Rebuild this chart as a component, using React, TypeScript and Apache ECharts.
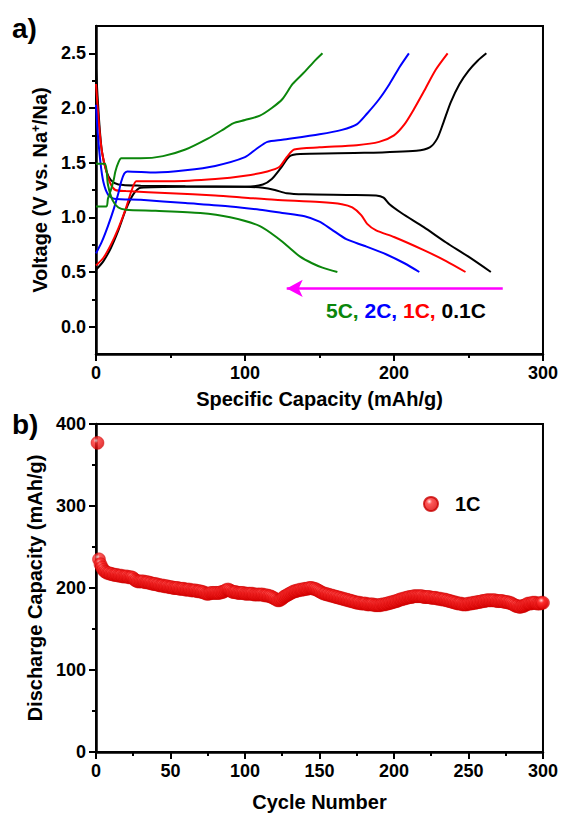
import React, { useEffect, useRef } from "react";
import * as echarts from "echarts";

const FONT = '"Liberation Sans", Arial, Helvetica, sans-serif';

// ---- (a) charge / discharge profiles: [capacity mAh/g, voltage V] ----
const black01CDischarge = [
  [0, 2.36], [2, 1.9], [4, 1.6], [7, 1.42], [10, 1.34], [15, 1.3], [30, 1.29], [60, 1.285], [100, 1.28],
  [112, 1.27], [120, 1.25], [128, 1.22], [140, 1.21], [170, 1.205], [188, 1.2], [193, 1.18], [197, 1.12],
  [205, 1.04], [220, 0.91], [235, 0.77], [250, 0.64], [265, 0.5],
];
const black01CCharge = [
  [0, 0.52], [5, 0.6], [10, 0.72], [15, 0.88], [20, 1.07], [25, 1.21], [30, 1.27], [60, 1.28], [100, 1.28],
  [112, 1.3], [118, 1.35], [124, 1.45], [130, 1.56], [137, 1.58], [180, 1.59], [215, 1.61], [224, 1.64],
  [229, 1.72], [233, 1.86], [238, 2.05], [244, 2.22], [250, 2.34], [256, 2.43], [262, 2.5],
];
const red1CDischarge = [
  [0, 2.22], [2, 1.85], [4, 1.6], [7, 1.42], [10, 1.3], [13, 1.25], [20, 1.24], [50, 1.22], [80, 1.2],
  [100, 1.18], [120, 1.16], [150, 1.14], [165, 1.12], [172, 1.09], [178, 1.02], [182, 0.94], [188, 0.88],
  [200, 0.82], [220, 0.7], [235, 0.6], [248, 0.5],
];
const red1CCharge = [
  [0, 0.56], [5, 0.63], [10, 0.75], [15, 0.9], [20, 1.08], [24, 1.25], [27, 1.33], [30, 1.33], [50, 1.33],
  [80, 1.35], [100, 1.38], [115, 1.42], [123, 1.46], [128, 1.55], [133, 1.62], [150, 1.64], [175, 1.66],
  [190, 1.69], [200, 1.75], [207, 1.85], [213, 1.98], [220, 2.15], [228, 2.35], [236, 2.5],
];
const blue2CDischarge = [
  [0, 2.03], [1, 1.8], [3, 1.5], [5, 1.32], [8, 1.21], [12, 1.17], [30, 1.16], [60, 1.13], [90, 1.1],
  [110, 1.07], [125, 1.04], [140, 1.01], [150, 0.96], [158, 0.89], [168, 0.8], [180, 0.74], [195, 0.66],
  [207, 0.58], [217, 0.5],
];
const blue2CCharge = [
  [0, 0.67], [4, 0.78], [8, 0.92], [12, 1.08], [15, 1.22], [17, 1.33], [19, 1.4], [21, 1.42], [40, 1.41],
  [60, 1.43], [80, 1.47], [100, 1.55], [108, 1.63], [115, 1.69], [125, 1.71], [150, 1.76], [165, 1.8],
  [175, 1.85], [182, 1.95], [190, 2.08], [197, 2.22], [204, 2.38], [210, 2.5],
];
const green5CDischarge = [
  [0, 1.49], [6, 1.49], [8, 1.3], [11, 1.16], [15, 1.09], [20, 1.07], [40, 1.06], [70, 1.04], [90, 1.0],
  [110, 0.92], [123, 0.8], [130, 0.72], [137, 0.64], [145, 0.58], [152, 0.54], [162, 0.5],
];
const green5CCharge = [
  [0, 1.1], [7, 1.1], [8, 1.17], [10, 1.25], [12, 1.35], [13, 1.42], [15, 1.5], [17, 1.54], [30, 1.54],
  [45, 1.56], [60, 1.62], [75, 1.72], [85, 1.8], [92, 1.86], [100, 1.89], [110, 1.93], [118, 2.0],
  [125, 2.08], [132, 2.22], [140, 2.33], [146, 2.42], [152, 2.5],
];
const arrowStart = [273, 0.35];
const arrowEnd = [128, 0.35];

const voltageLabels = [0, 0.5, 1.0, 1.5, 2.0, 2.5];
const voltageMinor = [0.25, 0.75, 1.25, 1.75, 2.25];

// ---- (b) cycling at 1C: discharge capacity for cycles 1..300 ----
const dischargeCapacity = [
  377, 235, 229, 225, 222, 220, 219, 218, 218, 217,
  217, 216, 216, 216, 215, 215, 215, 214, 214, 214,
  214, 213, 213, 213, 212, 210, 209, 208, 208, 208,
  208, 208, 207, 207, 207, 206, 206, 205, 205, 205,
  204, 204, 203, 203, 203, 202, 202, 202, 201, 201,
  201, 200, 200, 200, 200, 199, 199, 199, 199, 198,
  198, 198, 198, 197, 197, 197, 197, 196, 196, 196,
  195, 195, 194, 193, 193, 193, 194, 194, 194, 194,
  194, 194, 194, 195, 195, 196, 197, 198, 198, 197,
  196, 195, 195, 195, 194, 194, 194, 194, 194, 193,
  193, 193, 193, 193, 193, 192, 192, 192, 192, 192,
  192, 192, 191, 191, 191, 190, 190, 189, 188, 187,
  186, 185, 185, 186, 187, 189, 190, 191, 192, 193,
  194, 195, 196, 196, 197, 197, 198, 198, 198, 199,
  199, 199, 200, 200, 200, 199, 199, 198, 197, 196,
  195, 194, 193, 193, 192, 192, 191, 191, 190, 190,
  189, 189, 188, 188, 187, 187, 186, 186, 185, 185,
  184, 184, 183, 183, 182, 182, 182, 181, 181, 181,
  181, 180, 180, 180, 180, 180, 179, 179, 179, 179,
  179, 180, 180, 180, 181, 181, 182, 182, 183, 183,
  184, 184, 185, 186, 186, 187, 187, 188, 188, 189,
  189, 189, 190, 190, 190, 190, 190, 190, 190, 189,
  189, 189, 189, 189, 188, 188, 188, 188, 187, 187,
  187, 186, 186, 186, 185, 185, 184, 184, 183, 183,
  182, 182, 181, 181, 181, 180, 180, 180, 180, 181,
  181, 181, 182, 182, 182, 183, 183, 183, 184, 184,
  184, 185, 185, 185, 185, 185, 185, 185, 184, 184,
  184, 184, 184, 183, 183, 183, 182, 182, 181, 180,
  179, 178, 178, 177, 177, 178, 178, 179, 180, 181,
  181, 181, 182, 182, 182, 181, 181, 181, 182, 182,
];
const cycleNumbers = dischargeCapacity.map((_, i) => i + 1);

const BLACK = "#000000";
const RED = "#ff0000";
const BLUE = "#0000ff";
const GREEN = "#0b860b";
const MAGENTA = "#ff00ff";

const tickLabel = { fontFamily: FONT, fontSize: 18, fontWeight: "bold", color: "#000" };
const nameStyle = { fontFamily: FONT, fontSize: 20, fontWeight: "bold", color: "#000" };
const axisLine = { show: true, onZero: false, lineStyle: { color: "#000", width: 2.5 } };

function lineSeries(name: string, data: number[][], color: string, extra: any = {}) {
  return {
    name,
    type: "line",
    xAxisIndex: 0,
    yAxisIndex: 0,
    data,
    showSymbol: false,
    smooth: 0.25,
    lineStyle: { color, width: 2 },
    itemStyle: { color },
    z: 3,
    ...extra,
  };
}

export default function App() {
  const ref = useRef<HTMLDivElement>(null);
  useEffect(() => {
    if (!ref.current) return;
    const chart = echarts.init(ref.current, null, { renderer: "svg" });
    const sphere = {
      type: "radial",
      x: 0.38,
      y: 0.32,
      r: 0.7,
      colorStops: [
        { offset: 0, color: "#ffe8e8" },
        { offset: 0.28, color: "#ff3030" },
        { offset: 1, color: "#d80000" },
      ],
    };
    chart.setOption({
      animation: false,
      backgroundColor: "#fff",
      textStyle: { fontFamily: FONT },
      grid: [
        { left: 96, top: 26, width: 448, height: 328, show: true, borderColor: "#000", borderWidth: 2 },
        { left: 96, top: 424, width: 447, height: 328, show: true, borderColor: "#000", borderWidth: 2 },
      ],
      xAxis: [
        {
          type: "value",
          gridIndex: 0,
          min: 0,
          max: 300,
          interval: 100,
          axisLine,
          axisTick: { show: true, length: 7, lineStyle: { color: "#000", width: 2 } },
          minorTick: { show: true, splitNumber: 2, length: 4, lineStyle: { color: "#000", width: 2 } },
          splitLine: { show: false },
          minorSplitLine: { show: false },
          axisLabel: { ...tickLabel, margin: 10 },
          name: "Specific Capacity (mAh/g)",
          nameLocation: "middle",
          nameGap: 35,
          nameTextStyle: nameStyle,
        },
        {
          type: "value",
          gridIndex: 1,
          min: 0,
          max: 300,
          interval: 50,
          axisLine,
          axisTick: { show: true, length: 7, lineStyle: { color: "#000", width: 2 } },
          minorTick: { show: true, splitNumber: 2, length: 4, lineStyle: { color: "#000", width: 2 } },
          splitLine: { show: false },
          minorSplitLine: { show: false },
          axisLabel: { ...tickLabel, margin: 10 },
          name: "Cycle Number",
          nameLocation: "middle",
          nameGap: 40,
          nameTextStyle: nameStyle,
        },
      ],
      yAxis: [
        {
          type: "value",
          gridIndex: 0,
          position: "left",
          min: -0.25,
          max: 2.75,
          interval: 0.25,
          axisLine,
          axisTick: { show: true, length: 7, customValues: voltageLabels, lineStyle: { color: "#000", width: 2 } },
          axisLabel: { ...tickLabel, margin: 10, customValues: voltageLabels, formatter: (v: number) => v.toFixed(1) },
          splitLine: { show: false },
          name: "Voltage (V vs. Na{sup|+}/Na)",
          nameLocation: "middle",
          nameGap: 44,
          nameRotate: 90,
          nameTextStyle: {
            ...nameStyle,
            rich: {
              sup: { fontFamily: FONT, fontSize: 12, fontWeight: "bold", color: "#000", verticalAlign: "top", padding: [0, 0, 9, 0] },
            },
          },
        },
        {
          type: "value",
          gridIndex: 0,
          position: "left",
          offset: 0,
          min: -0.25,
          max: 2.75,
          interval: 0.25,
          axisLine: { show: false },
          axisTick: { show: true, length: 4, customValues: voltageMinor, lineStyle: { color: "#000", width: 2 } },
          axisLabel: { show: false },
          splitLine: { show: false },
        },
        {
          type: "value",
          gridIndex: 1,
          min: 0,
          max: 400,
          interval: 100,
          axisLine,
          axisTick: { show: true, length: 7, lineStyle: { color: "#000", width: 2 } },
          minorTick: { show: true, splitNumber: 2, length: 4, lineStyle: { color: "#000", width: 2 } },
          splitLine: { show: false },
          minorSplitLine: { show: false },
          axisLabel: { ...tickLabel, margin: 10 },
          name: "Discharge Capacity (mAh/g)",
          nameLocation: "middle",
          nameGap: 44,
          nameRotate: 90,
          nameTextStyle: nameStyle,
        },
      ],
      legend: {
        data: ["1C"],
        left: 418,
        top: 489,
        icon: "circle",
        itemWidth: 14,
        itemHeight: 14,
        textStyle: { ...nameStyle, padding: [0, 0, 0, 12] },
        selectedMode: false,
      },
      series: [
        lineSeries("0.1C discharge", black01CDischarge, BLACK),
        lineSeries("0.1C charge", black01CCharge, BLACK, {
          markLine: {
            silent: true,
            symbol: ["none", "arrow"],
            symbolSize: [13, 16],
            label: { show: false },
            lineStyle: { color: MAGENTA, width: 2.5, type: "solid" },
            data: [[{ coord: arrowStart }, { coord: arrowEnd }]],
          },
        }),
        lineSeries("1C discharge", red1CDischarge, RED),
        lineSeries("1C charge", red1CCharge, RED),
        lineSeries("2C discharge", blue2CDischarge, BLUE),
        lineSeries("2C charge", blue2CCharge, BLUE),
        lineSeries("5C discharge", green5CDischarge, GREEN),
        lineSeries("5C charge", green5CCharge, GREEN),
        {
          name: "1C",
          type: "scatter",
          xAxisIndex: 1,
          yAxisIndex: 2,
          data: cycleNumbers.map((c, i) => [c, dischargeCapacity[i]]),
          symbol: "circle",
          symbolSize: 13,
          itemStyle: { color: sphere, borderColor: "#c80000", borderWidth: 0.5 },
        },
      ],
      graphic: [
        {
          type: "text",
          left: 12,
          top: 14,
          style: { text: "a)", fontFamily: FONT, fontSize: 28, fontWeight: "bold", fill: "#000" },
        },
        {
          type: "text",
          left: 12,
          top: 410,
          style: { text: "b)", fontFamily: FONT, fontSize: 28, fontWeight: "bold", fill: "#000" },
        },
        {
          type: "text",
          left: 326,
          top: 300,
          style: {
            text: "{g|5C,} {b|2C,} {r|1C,} {k|0.1C}",
            fontFamily: FONT,
            fontSize: 21,
            fontWeight: "bold",
            fill: "#000",
            rich: {
              g: { fontFamily: FONT, fontSize: 21, fontWeight: "bold", fill: GREEN },
              b: { fontFamily: FONT, fontSize: 21, fontWeight: "bold", fill: BLUE },
              r: { fontFamily: FONT, fontSize: 21, fontWeight: "bold", fill: RED },
              k: { fontFamily: FONT, fontSize: 21, fontWeight: "bold", fill: BLACK },
            },
          },
        },
      ],
    });
    return () => chart.dispose();
  }, []);
  return (
    <div
      ref={ref}
      style={{ position: "absolute", left: 0, top: 0, width: 561, height: 813, background: "#fff" }}
    />
  );
}
